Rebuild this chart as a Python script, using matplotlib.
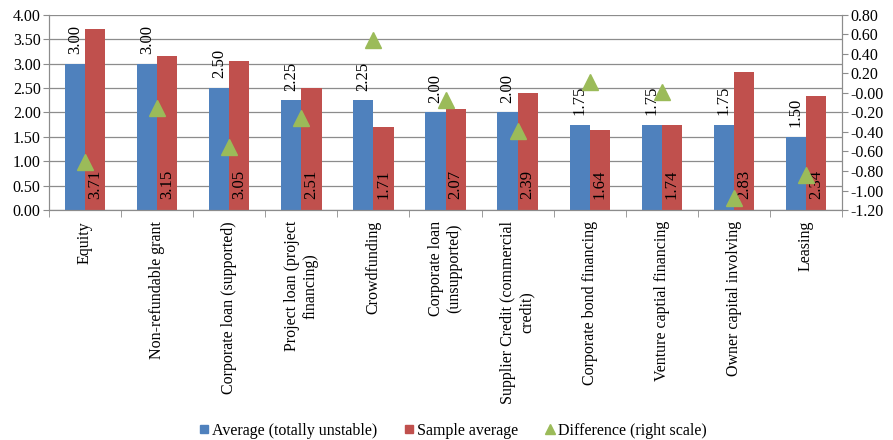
import matplotlib
matplotlib.use("Agg")
import matplotlib.pyplot as plt
import numpy as np
from matplotlib.lines import Line2D

plt.rcParams['font.family'] = ['Liberation Serif', 'DejaVu Serif']
plt.rcParams['axes.unicode_minus'] = False

categories = ["Equity", "Non-refundable grant", "Corporate loan (supported)",
              "Project loan (project\nfinancing)", "Crowdfunding",
              "Corporate loan\n(unsupported)", "Supplier Credit (commercial\ncredit)",
              "Corporate bond financing", "Venture captial financing",
              "Owner capital involving", "Leasing"]
avg_unstable = [3.00, 3.00, 2.50, 2.25, 2.25, 2.00, 2.00, 1.75, 1.75, 1.75, 1.50]
sample_avg = [3.71, 3.15, 3.05, 2.51, 1.71, 2.07, 2.39, 1.64, 1.74, 2.83, 2.34]
difference = [-0.71, -0.15, -0.55, -0.26, 0.54, -0.07, -0.39, 0.11, 0.01, -1.08, -0.84]

blue = '#4F81BD'
red = '#C0504D'
green = '#9BBB59'
gray = '#8C8C8C'

fig = plt.figure(figsize=(8.93, 4.40), dpi=100)
ax = fig.add_axes([0.0549, 0.5227, 0.888, 0.4433])
x = np.arange(len(categories))
w = 0.28
ax.bar(x - w/2, avg_unstable, w, color=blue, zorder=2)
ax.bar(x + w/2, sample_avg, w, color=red, zorder=2)
ax.set_xlim(-0.5, len(categories) - 0.5)
ax.set_ylim(0, 4)
ax.set_yticks(np.arange(0, 4.01, 0.5))
ax.yaxis.set_major_formatter(matplotlib.ticker.FormatStrFormatter('%.2f'))
ax.grid(axis='y', color=gray, linewidth=0.9, zorder=0)
ax.set_axisbelow(True)
ax.spines['top'].set_visible(False)
for s in ['left', 'bottom', 'right']:
    ax.spines[s].set_color(gray)
ax.tick_params(axis='y', labelsize=11.5, length=4, color=gray, pad=2)
ax.set_xticks(x)
ax.set_xticklabels(categories, rotation=90, fontsize=11.5)
ax.tick_params(axis='x', which='major', length=0, pad=8)
ax.set_xticks(np.arange(-0.5, len(categories), 1.0), minor=True)
ax.tick_params(axis='x', which='minor', length=5, color=gray)

for xi, v in zip(x, avg_unstable):
    ax.annotate(f'{v:.2f}', (xi - w/2, v), xytext=(0, 7), textcoords='offset points',
                rotation=90, ha='center', va='bottom', fontsize=12, zorder=5)
for xi, v in zip(x, sample_avg):
    ax.annotate(f'{v:.2f}', (xi + w/2, 0), xytext=(0, 8), textcoords='offset points',
                rotation=90, ha='center', va='bottom', fontsize=12, zorder=5)

ax2 = ax.twinx()
ax2.plot(x, difference, linestyle='none', marker='^', color=green, markersize=12, zorder=4)
ax2.set_ylim(-1.2, 0.8)
ax2.set_yticks(np.arange(-1.2, 0.81, 0.2))
ax2.yaxis.set_major_formatter(matplotlib.ticker.FormatStrFormatter('%.2f'))
ax2.tick_params(axis='y', labelsize=11.5, length=4, color=gray, pad=2)
ax2.spines['top'].set_visible(False)
for s in ['left', 'bottom', 'right']:
    ax2.spines[s].set_color(gray)

handles = [Line2D([], [], linestyle='none', marker='s', color=blue, markersize=6),
           Line2D([], [], linestyle='none', marker='s', color=red, markersize=6),
           Line2D([], [], linestyle='none', marker='^', color=green, markersize=7)]
labels = ["Average (totally unstable)", "Sample average", "Difference (right scale)"]
fig.legend(handles, labels, loc='lower center', bbox_to_anchor=(0.507, -0.03), ncol=3,
           frameon=False, fontsize=11.5, handlelength=0.6, handletextpad=0.2,
           columnspacing=1.7)

fig.savefig('out.png', dpi=100)
